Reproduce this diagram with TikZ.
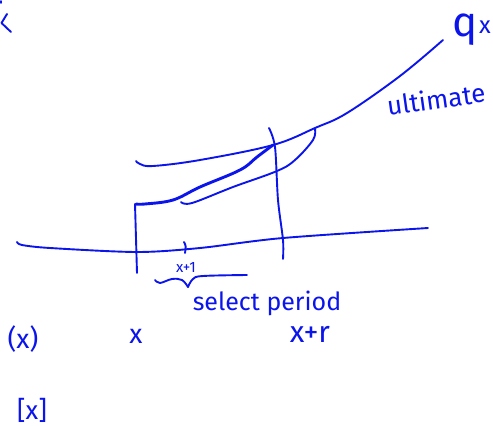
\documentclass[tikz,border=0pt]{standalone}
\usepackage{fontspec}
\setmainfont{Fira Sans}
\definecolor{ink}{RGB}{10,20,235}
\tikzset{
  pen/.style={draw=ink,line width=1.9pt,line cap=round,line join=round},
  thickpen/.style={pen,line width=2.9pt},
  lbl/.style={text=ink,inner sep=0pt,anchor=center},
}
\newcommand{\fs}[1]{\fontsize{#1}{#1}\selectfont}
\begin{document}
\begin{tikzpicture}[x=1pt,y=-1pt]
\useasboundingbox (0,0) rectangle (493,426);
% top-left marks
\draw[pen] (1,1) -- (1,3);
\draw[pen] (7,14) -- (1.5,23) -- (11,32);
% ultimate curve
\draw[pen] plot[smooth,tension=0.6] coordinates {(443,40) (400,76) (347,113) (315,128) (273,145) (200,160) (153,166) (140,164) (136,161)};
% select curve 1 (thick)
\draw[thickpen] plot[smooth,tension=0.6] coordinates {(273,145) (257,157) (240,170) (200,187) (173,200) (145,204) (136,204)};
% select curve 2
\draw[pen] plot[smooth,tension=0.6] coordinates {(315,129) (313,140) (295,160) (277,171) (233,187) (192,203) (181,202)};
% left vertical
\draw[pen] (135,204) -- (137,273);
% right vertical
\draw[pen] plot[smooth,tension=0.5] coordinates {(269,128) (275,147) (278,200) (283,240) (283,259)};
% horizontal axis
\draw[pen] plot[smooth,tension=0.5] coordinates {(17,242) (22,245) (50,248) (137,252) (200,248) (283,238) (428,228)};
% tick at x+1
\draw[pen] (184,242) .. controls (186,246) .. (185,253);
% brace
\draw[pen] plot[smooth,tension=0.6] coordinates {(155,280) (160,283) (172,279) (182,280) (188,287)};
\draw[pen] plot[smooth,tension=0.6] coordinates {(188,287) (193,279) (203,276) (247,275)};
% labels
\node[lbl,font=\fs{15}] (xp1) at (186,267) {x+1};
\node[lbl,font=\fs{25}] (sel) at (267,303) {select period};
\node[lbl,font=\fs{26},rotate=8] (ult) at (436,99) {ultimate};
\node[lbl,font=\fs{42}] (q) at (465,30) {q};
\node[lbl,font=\fs{24}] (qx) at (485,27) {x};
\node[lbl,font=\fs{27}] (px) at (23,339) {(x)};
\node[lbl,font=\fs{27}] (x) at (136,336) {x};
\node[lbl,font=\fs{30}] (xr) at (310,334) {x+r};
\node[lbl,font=\fs{26}] (bx) at (32,410) {[x]};
\end{tikzpicture}
\end{document}
